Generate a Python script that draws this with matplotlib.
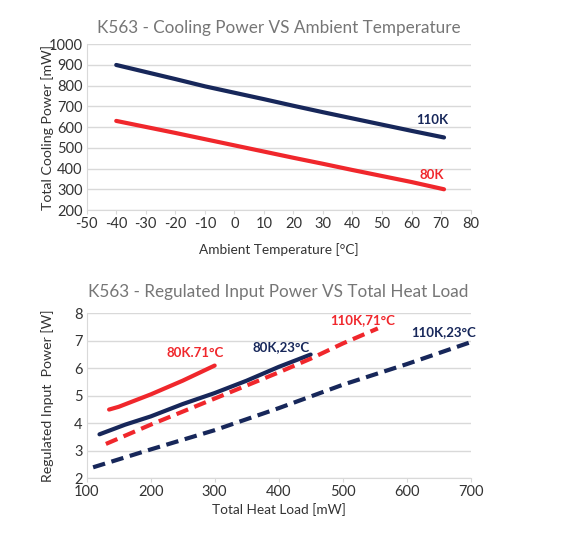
import numpy as np
import matplotlib
matplotlib.use("Agg")
import matplotlib.pyplot as plt

plt.rcParams['font.family'] = ['Lato', 'DejaVu Sans']
plt.rcParams['axes.unicode_minus'] = False

# top chart data
amb_temp = [-40, -30, -20, -10, 0, 10, 20, 30, 40, 50, 60, 71]
cool_110k = [900, 866, 832, 797, 766, 735, 703, 672, 642, 612, 582, 550]
cool_80k = [630, 601, 572, 542, 512, 482, 452, 423, 393, 364, 335, 300]

# bottom chart data
load_80k_71 = [135, 150, 200, 250, 300]
pwr_80k_71 = [4.5, 4.6, 5.05, 5.55, 6.1]
load_80k_23 = [120, 160, 200, 250, 300, 350, 400, 450]
pwr_80k_23 = [3.6, 3.95, 4.25, 4.7, 5.1, 5.55, 6.05, 6.5]
load_110k_71 = [130, 200, 300, 400, 450, 500, 555]
pwr_110k_71 = [3.25, 3.95, 4.9, 5.85, 6.35, 6.9, 7.45]
load_110k_23 = [110, 200, 300, 400, 500, 600, 700]
pwr_110k_23 = [2.4, 3.05, 3.75, 4.55, 5.4, 6.15, 6.95]

navy = '#17275a'
red = '#f0272c'
grid_c = '#d9d9d9'
title_c = '#767676'
text_c = '#333333'

fig = plt.figure(figsize=(5.87, 5.33), dpi=100)
ax1 = fig.add_axes([0.1477, 0.606, 0.654, 0.311])
ax2 = fig.add_axes([0.1477, 0.1026, 0.654, 0.3096])


def style(ax):
    for s in ['top', 'right']:
        ax.spines[s].set_visible(False)
    for s in ['left', 'bottom']:
        ax.spines[s].set_color(grid_c)
    ax.grid(axis='y', color=grid_c, lw=1)
    ax.set_axisbelow(True)
    ax.tick_params(axis='y', length=0, labelsize=10.5, colors=text_c, pad=3)
    ax.tick_params(axis='x', length=3, color=grid_c, labelsize=10.5, labelcolor=text_c, pad=2)
    ax.yaxis.set_label_coords(-0.103, 0.5)


lw = 3.0
ax1.plot(amb_temp, cool_110k, color=navy, lw=lw, solid_capstyle='round')
ax1.plot(amb_temp, cool_80k, color=red, lw=lw, solid_capstyle='round')
ax1.set_xlim(-50, 80)
ax1.set_ylim(200, 1000)
ax1.set_xticks(np.arange(-50, 81, 10))
ax1.set_yticks(np.arange(200, 1001, 100))
style(ax1)
ax1.set_title('K563 - Cooling Power VS Ambient Temperature', fontsize=12.3, color=title_c, pad=8)
ax1.set_xlabel('Ambient Temperature [°C]', fontsize=9.8, color=text_c, labelpad=9)
ax1.set_ylabel('Total Cooling Power [mW]', fontsize=10.2, color=text_c, va='center')
ax1.text(67, 635, '110K', color=navy, fontsize=9.5, fontweight='bold', ha='center', va='center')
ax1.text(67, 369, '80K', color=red, fontsize=9.5, fontweight='bold', ha='center', va='center')

ax2.plot(load_80k_71, pwr_80k_71, color=red, lw=lw, solid_capstyle='round')
ax2.plot(load_80k_23, pwr_80k_23, color=navy, lw=lw, solid_capstyle='round')
ax2.plot(load_110k_71, pwr_110k_71, color=red, lw=lw, ls=(0, (3, 1.6)))
ax2.plot(load_110k_23, pwr_110k_23, color=navy, lw=lw, ls=(0, (3, 1.6)))
ax2.set_xlim(100, 700)
ax2.set_ylim(2, 8)
ax2.set_xticks(np.arange(100, 701, 100))
ax2.set_yticks(np.arange(2, 9, 1))
style(ax2)
ax2.set_title('K563 - Regulated Input Power VS Total Heat Load', fontsize=12.3, color=title_c, pad=12)
ax2.set_xlabel('Total Heat Load [mW]', fontsize=9.8, color=text_c, labelpad=3)
ax2.set_ylabel('Regulated Input  Power [W]', fontsize=10.2, color=text_c, va='center')
ax2.text(270, 6.55, '80K.71°C', color=red, fontsize=9.5, fontweight='bold', ha='center', va='center')
ax2.text(403, 6.76, '80K,23°C', color=navy, fontsize=9.5, fontweight='bold', ha='center', va='center')
ax2.text(532, 7.76, '110K,71°C', color=red, fontsize=9.5, fontweight='bold', ha='center', va='center')
ax2.text(657, 7.31, '110K,23°C', color=navy, fontsize=9.5, fontweight='bold', ha='center', va='center')

fig.savefig('out.png', dpi=100, facecolor='white')
